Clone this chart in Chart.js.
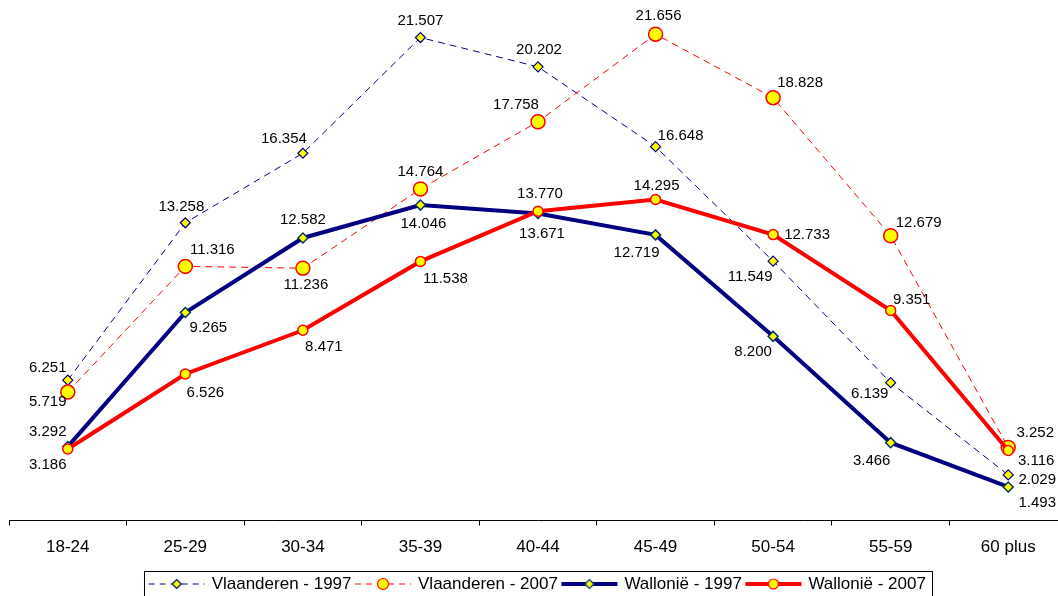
<!DOCTYPE html>
<html>
<head>
<meta charset="utf-8">
<title>Vlaanderen / Wallonië 1997 – 2007</title>
<script src="https://cdn.jsdelivr.net/npm/chart.js@4/dist/chart.umd.min.js"></script>
<style>
  html, body { margin: 0; padding: 0; background: #fff; overflow: hidden; }
  #wrap { width: 1058px; height: 596px; overflow: hidden; position: relative; }
  canvas { display: block; }
</style>
</head>
<body>
<div id="wrap"><canvas id="chart" width="1076" height="620"></canvas></div>
<script>
// Age groups on the category axis
const ageGroups = ['18-24', '25-29', '30-34', '35-39', '40-44', '45-49', '50-54', '55-59', '60 plus'];

// Shares per age group
const vlaanderen1997 = [6.251, 13.258, 16.354, 21.507, 20.202, 16.648, 11.549, 6.139, 2.029];
const vlaanderen2007 = [5.719, 11.316, 11.236, 14.764, 17.758, 21.656, 18.828, 12.679, 3.252];
const wallonie1997   = [3.292, 9.265, 12.582, 14.046, 13.671, 12.719, 8.200, 3.466, 1.493];
const wallonie2007   = [3.186, 6.526, 8.471, 11.538, 13.770, 14.295, 12.733, 9.351, 3.116];

// Where each value label sits relative to its point (dx, dy in px)
const labelOffsets = [
  [[-20,-12],[-4,-16],[-19,-14],[0,-17],[1,-17],[25,-11],[-23,16],[-21,11],[29,5]],
  [[-20,10],[27,-17],[3,17],[0,-17],[-22,-17],[3,-18],[27,-15],[28,-13],[27,-15]],
  [[-20,-15],[23,15],[0,-18],[3,19],[4,20],[-19,18],[-20,15],[-19,18],[29,16]],
  [[-20,16],[20,19],[21,17],[25,17],[2,-17],[1,-14],[34,0],[21,-11],[28,10]]
];

const FONT = '"Liberation Sans", Arial, Helvetica, sans-serif';
const NAVY = '#000080';
const RED = '#ff0000';
const YELLOW = '#ffff00';

// Small line + marker swatches for the legend
function legendSymbol(color, lineWidth, dash, shape, r, border) {
  const W = 60, cx = W / 2;
  const c = document.createElement('canvas');
  c.width = W; c.height = 16;
  const g = c.getContext('2d');
  g.strokeStyle = color;
  g.lineWidth = lineWidth;
  g.setLineDash(dash);
  g.beginPath(); g.moveTo(2, 8); g.lineTo(W - 2, 8); g.stroke();
  g.setLineDash([]);
  g.fillStyle = YELLOW;
  g.strokeStyle = border;
  g.lineWidth = 1.2;
  g.beginPath();
  if (shape === 'diamond') {
    g.moveTo(cx, 8 - r); g.lineTo(cx + r, 8); g.lineTo(cx, 8 + r); g.lineTo(cx - r, 8); g.closePath();
  } else {
    g.arc(cx, 8, r, 0, Math.PI * 2);
  }
  g.fill(); g.stroke();
  return c;
}

const legendSymbols = [
  legendSymbol(NAVY, 1, [6, 5], 'diamond', 4.5, NAVY),
  legendSymbol(RED, 1, [6, 5], 'circle', 5.5, RED),
  legendSymbol(NAVY, 4, [], 'diamond', 4.5, '#003366'),
  legendSymbol(RED, 4, [], 'circle', 5, RED)
];

// Value labels next to every point
const valueLabels = {
  id: 'valueLabels',
  afterDatasetsDraw(chart) {
    const ctx = chart.ctx;
    ctx.save();
    ctx.font = '15px ' + FONT;
    ctx.fillStyle = '#000';
    ctx.textAlign = 'center';
    ctx.textBaseline = 'middle';
    chart.data.datasets.forEach((ds, di) => {
      const meta = chart.getDatasetMeta(di);
      meta.data.forEach((pt, i) => {
        const [dx, dy] = labelOffsets[di][i];
        ctx.fillText(ds.data[i].toFixed(3), pt.x + dx, pt.y + dy);
      });
    });
    ctx.restore();
  }
};

// Frame around the legend row
const legendFrame = {
  id: 'legendFrame',
  afterDraw(chart) {
    const lg = chart.legend;
    const hb = lg.legendHitBoxes;
    if (!hb || !hb.length) return;
    const last = hb[hb.length - 1];
    const l = Math.round(hb[0].left - 6) + 0.5;
    const r = Math.round(last.left + last.width + 6) + 0.5;
    const t = Math.round(lg.top) + 0.5;
    const ctx = chart.ctx;
    ctx.save();
    ctx.strokeStyle = '#000';
    ctx.lineWidth = 1;
    ctx.strokeRect(l, t, r - l, 40);
    ctx.restore();
  }
};

new Chart(document.getElementById('chart'), {
  type: 'line',
  data: {
    labels: ageGroups,
    datasets: [
      {
        label: 'Vlaanderen - 1997',
        data: vlaanderen1997,
        order: 4,
        borderColor: NAVY,
        borderWidth: 1,
        borderDash: [7, 5],
        pointStyle: 'rectRot',
        pointRadius: 5,
        pointBackgroundColor: YELLOW,
        pointBorderColor: NAVY,
        pointBorderWidth: 1.2
      },
      {
        label: 'Vlaanderen - 2007',
        data: vlaanderen2007,
        order: 3,
        borderColor: RED,
        borderWidth: 1,
        borderDash: [7, 5],
        pointStyle: 'circle',
        pointRadius: 7,
        pointBackgroundColor: YELLOW,
        pointBorderColor: RED,
        pointBorderWidth: 1.5
      },
      {
        label: 'Wallonië - 1997',
        data: wallonie1997,
        order: 2,
        borderColor: NAVY,
        borderWidth: 4,
        pointStyle: 'rectRot',
        pointRadius: 5,
        pointBackgroundColor: YELLOW,
        pointBorderColor: '#003366',
        pointBorderWidth: 1.5
      },
      {
        label: 'Wallonië - 2007',
        data: wallonie2007,
        order: 1,
        borderColor: RED,
        borderWidth: 4,
        pointStyle: 'circle',
        pointRadius: 5,
        pointBackgroundColor: YELLOW,
        pointBorderColor: RED,
        pointBorderWidth: 1.5
      }
    ]
  },
  options: {
    responsive: false,
    animation: false,
    devicePixelRatio: 1,
    elements: { line: { tension: 0 } },
    layout: { padding: { left: 9, right: 9, top: 0, bottom: 17.5 } },
    scales: {
      x: {
        type: 'category',
        offset: true,
        afterFit(scale) { scale.height = 50; },
        border: { display: true, color: '#000', width: 1 },
        grid: {
          offset: true,
          drawOnChartArea: false,
          drawTicks: true,
          tickLength: 5,
          color: '#000'
        },
        ticks: {
          color: '#000',
          padding: 12,
          maxRotation: 0,
          autoSkip: false,
          font: { family: FONT, size: 17 }
        }
      },
      y: {
        display: false,
        min: 0,
        max: 22.8
      }
    },
    plugins: {
      tooltip: { enabled: false },
      legend: {
        position: 'bottom',
        labels: {
          usePointStyle: true,
          pointStyleWidth: 53,
          padding: 5,
          color: '#000',
          font: { family: FONT, size: 17 },
          sort: (a, b) => a.datasetIndex - b.datasetIndex,
          generateLabels(chart) {
            const items = Chart.defaults.plugins.legend.labels.generateLabels(chart);
            items.forEach(it => {
              it.pointStyle = legendSymbols[it.datasetIndex];
              it.rotation = 0;
            });
            return items;
          }
        }
      }
    }
  },
  plugins: [valueLabels, legendFrame]
});
</script>
</body>
</html>
